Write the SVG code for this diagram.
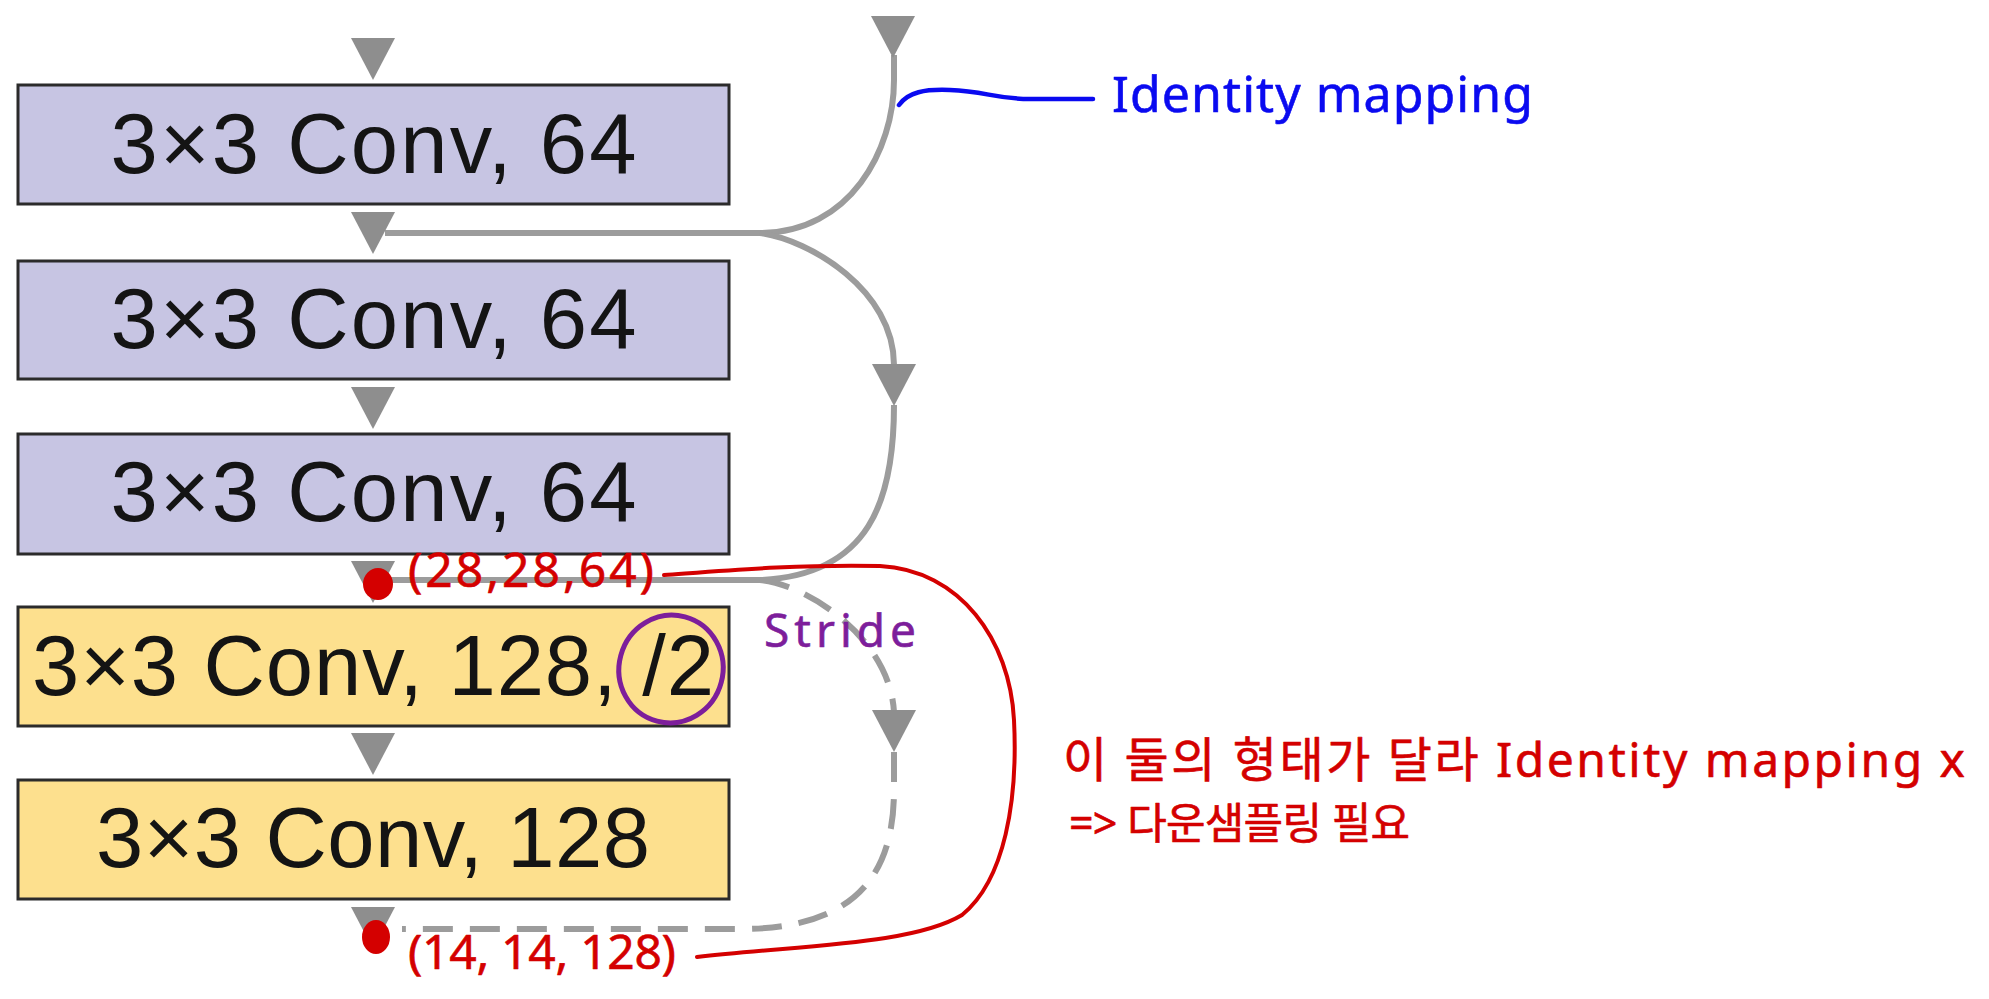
<svg xmlns="http://www.w3.org/2000/svg" width="1989" height="999" viewBox="0 0 1989 999">
<style>
.box{stroke:#2b2b2b;stroke-width:3}
.blue{fill:#C7C5E3}
.yel{fill:#FDE08E}
.lbl{font-family:"Liberation Sans",Arial,sans-serif;font-size:85px;fill:#141414;text-anchor:middle}
.tri{fill:#8E8E8E}
.conn{fill:none;stroke:#9C9C9C;stroke-width:6}
.dash{stroke-dasharray:30 17}
.hand{font-family:"Noto Sans","Noto Sans CJK KR",sans-serif;stroke-width:0.6;stroke-linejoin:round}
.red{fill:#D40000}
.redt{fill:#D40000;stroke:#D40000}
.redl{fill:none;stroke:#D40000;stroke-width:4;stroke-linecap:round}
</style>
<defs>
<polygon id="tri" points="-22,0 22,0 0,42"/>
</defs>
<rect width="1989" height="999" fill="#fff"/>
<g id="connectors">
<path class="conn" d="M894,55 L894,80 C894,150 850,233 760,233 L385,233"/>
<path class="conn" d="M760,233 C810,240 894,290 894,365"/>
<path class="conn" d="M894,405 C894,500 870,575 760,580 L385,580"/>
<path class="conn dash" d="M760,580 C810,585 890,640 894,712"/>
<path class="conn dash" d="M894,752 L894,790 C894,870 860,929 740,929 L402,929"/>
<use href="#tri" class="tri" x="373" y="38"/>
<use href="#tri" class="tri" x="373" y="212"/>
<use href="#tri" class="tri" x="373" y="387"/>
<use href="#tri" class="tri" x="373" y="561"/>
<use href="#tri" class="tri" x="373" y="733"/>
<use href="#tri" class="tri" x="373" y="907"/>
<use href="#tri" class="tri" x="893" y="16"/>
<use href="#tri" class="tri" x="894" y="364"/>
<use href="#tri" class="tri" x="894" y="710"/>
</g>
<g id="node1"><rect class="box blue" x="18" y="85" width="711" height="119"/><text class="lbl" x="373.5" y="173" textLength="526" lengthAdjust="spacing">3×3 Conv, 64</text></g>
<g id="node2"><rect class="box blue" x="18" y="261" width="711" height="118"/><text class="lbl" x="373.5" y="348" textLength="526" lengthAdjust="spacing">3×3 Conv, 64</text></g>
<g id="node3"><rect class="box blue" x="18" y="434" width="711" height="120"/><text class="lbl" x="373.5" y="521" textLength="526" lengthAdjust="spacing">3×3 Conv, 64</text></g>
<g id="node4"><rect class="box yel" x="18" y="607" width="711" height="119"/><text class="lbl" x="373" y="695" textLength="682" lengthAdjust="spacing">3×3 Conv, 128, /2</text></g>
<g id="node5"><rect class="box yel" x="18" y="780" width="711" height="119"/><text class="lbl" x="373" y="867" textLength="554" lengthAdjust="spacing">3×3 Conv, 128</text></g>
<g id="annotations">
<path d="M899,105 C908,92 925,89 950,90 C985,91 995,99 1030,99 L1093,99" fill="none" stroke="#0A0AF0" stroke-width="4.5" stroke-linecap="round"/>
<text class="hand" x="1112" y="112" font-size="50" fill="#0A0AF0" stroke="#0A0AF0" textLength="421" lengthAdjust="spacing">Identity mapping</text>
<ellipse cx="671" cy="669" rx="52" ry="54" fill="none" stroke="#7D1E9B" stroke-width="5" transform="rotate(15 671 669)"/>
<text class="hand" x="764" y="647" font-size="46" fill="#7D1E9B" stroke="#7D1E9B" textLength="152" lengthAdjust="spacing">Stride</text>
<ellipse class="red" cx="378" cy="584" rx="15" ry="16"/>
<ellipse class="red" cx="376" cy="937" rx="14" ry="17"/>
<text class="hand redt" x="408" y="587" font-size="48" textLength="246" lengthAdjust="spacing">(28,28,64)</text>
<text class="hand redt" x="408" y="969" font-size="48" textLength="268" lengthAdjust="spacing">(14, 14, 128)</text>
<path class="redl" d="M664,575 C720,571 800,564 880,566 C960,570 1010,640 1014,720 C1018,800 1005,880 962,915 C912,945 800,945 697,957"/>
<text class="hand redt" x="1063" y="777" font-size="48" textLength="902" lengthAdjust="spacing">이 둘의 형태가 달라 Identity mapping x</text>
<text class="hand redt" x="1069" y="839" font-size="43" textLength="341" lengthAdjust="spacing">=&gt; 다운샘플링 필요</text>
</g>
</svg>
